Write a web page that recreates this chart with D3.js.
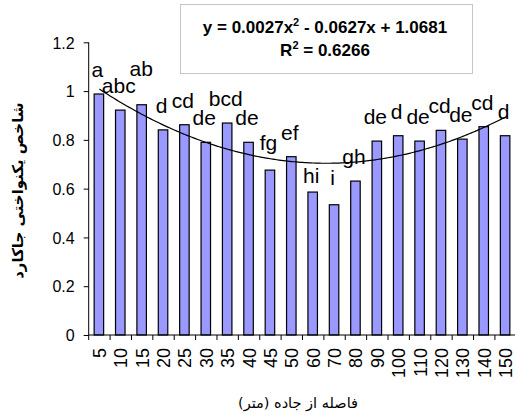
<!DOCTYPE html>
<html>
<head>
<meta charset="utf-8">
<script src="https://cdn.jsdelivr.net/npm/d3@7"></script>
<style>
  html, body { margin: 0; padding: 0; background: #fff; }
  svg { display: block; }
  text { font-family: Arial, "Liberation Sans", sans-serif; fill: #000; }
</style>
</head>
<body>
<script>
// Distance from road (m)
const categories = ["5", "10", "15", "20", "25", "30", "35", "40", "45", "50",
                    "60", "70", "80", "90", "100", "110", "120", "130", "140", "150"];
// Jaccard uniformity index per distance
const values = [0.988, 0.922, 0.944, 0.841, 0.862, 0.790, 0.869, 0.790, 0.676, 0.731,
                0.586, 0.534, 0.631, 0.795, 0.817, 0.795, 0.839, 0.803, 0.854, 0.817];
// Mean-comparison letters
const letters = ["a", "abc", "ab", "d", "cd", "de", "bcd", "de", "fg", "ef",
                 "hi", "i", "gh", "de", "d", "de", "cd", "de", "cd", "d"];
// Polynomial trend (order 2) over category index: a*x^2 + b*x + c
const trendCoef = [0.0027, -0.0627, 1.0681];
const trendR2 = 0.6266;
const yTicks = [0, 0.2, 0.4, 0.6, 0.8, 1, 1.2];
const yTickLabels = ["0", "0.2", "0.4", "0.6", "0.8", "1", "1.2"];

const W = 515, H = 418;
const plotLeft = 88.7, plotRight = 516.3, plotTop = 42.3, plotBottom = 335;

const svg = d3.select("body").append("svg")
  .attr("width", W).attr("height", H);

const x = d3.scaleBand().domain(categories).range([plotLeft, plotRight]).paddingInner(0).paddingOuter(0);
const y = d3.scaleLinear().domain([0, 1.2]).range([plotBottom, plotTop]);
const step = x.step();
const barW = 9.5;

// bars
svg.append("g").selectAll("rect")
  .data(values)
  .join("rect")
  .attr("x", (d, i) => x(categories[i]) + step / 2 - barW / 2 - 0.5)
  .attr("y", d => y(d))
  .attr("width", barW)
  .attr("height", d => y(0) - y(d))
  .attr("fill", "#9999ff")
  .attr("stroke", "#000")
  .attr("stroke-width", 1.2);

// quadratic trend line, category index 1..N at band centres
const idx = d3.scaleLinear().domain([1, categories.length])
  .range([x(categories[0]) + step / 2, x(categories[categories.length - 1]) + step / 2]);
const trendPts = d3.range(1, categories.length + 0.001, 0.1).map(t => [t,
  trendCoef[0] * t * t + trendCoef[1] * t + trendCoef[2]]);
svg.append("path")
  .datum(trendPts)
  .attr("fill", "none")
  .attr("stroke", "#000")
  .attr("stroke-width", 1.2)
  .attr("d", d3.line().x(d => idx(d[0])).y(d => y(d[1])));

// letters above bars
const labelNudge = { 2: -12, 8: -3, 10: 8, 11: -3 };
svg.append("g").selectAll("text")
  .data(letters)
  .join("text")
  .attr("x", (d, i) => x(categories[i]) + step / 2 - 2 + (i === 2 ? 1 : 0))
  .attr("y", (d, i) => y(values[i]) - 17 + (labelNudge[i] || 0))
  .attr("text-anchor", "middle")
  .style("font-size", "21px")
  .text(d => d);

// y axis
const yAxis = svg.append("g")
  .attr("transform", `translate(${plotLeft},0)`)
  .call(d3.axisLeft(y).tickValues(yTicks).tickSize(5).tickPadding(9)
    .tickFormat((d, i) => yTickLabels[i]));
yAxis.selectAll("text").style("font-size", "16px").attr("dy", "0.36em");
yAxis.select(".domain").attr("d", `M0,${plotTop}V${plotBottom}`);

// x axis: line, ticks at band boundaries, rotated labels
const xg = svg.append("g");
xg.append("line")
  .attr("x1", plotLeft).attr("x2", plotRight).attr("y1", plotBottom).attr("y2", plotBottom)
  .attr("stroke", "#000");
xg.selectAll("line.tk")
  .data(d3.range(categories.length + 1))
  .join("line")
  .attr("class", "tk")
  .attr("x1", i => plotLeft + i * step).attr("x2", i => plotLeft + i * step)
  .attr("y1", plotBottom).attr("y2", plotBottom + 5)
  .attr("stroke", "#000");
xg.selectAll("text")
  .data(categories)
  .join("text")
  .attr("transform", d => `translate(${x(d) + step / 2},${plotBottom + 13}) rotate(-90)`)
  .attr("text-anchor", "end")
  .attr("dy", "0.36em")
  .style("font-size", "18px")
  .text(d => d);

// axis titles
svg.append("text")
  .attr("transform", `translate(23,${(plotTop + plotBottom) / 2 + 2}) rotate(-90)`)
  .attr("text-anchor", "middle")
  .attr("direction", "rtl")
  .style("font-family", "'DejaVu Sans', sans-serif")
  .style("font-size", "15px")
  .style("font-weight", "bold")
  .text("شاخص یکنواختی جاکارد");

svg.append("text")
  .attr("x", 298).attr("y", 408)
  .attr("text-anchor", "middle")
  .attr("direction", "rtl")
  .style("font-family", "'DejaVu Sans', sans-serif")
  .style("font-size", "14.5px")
  .text("فاصله از جاده (متر)");

// equation box
const box = svg.append("g");
box.append("rect")
  .attr("x", 180.5).attr("y", 4.5).attr("width", 292).attr("height", 69)
  .attr("fill", "#fff").attr("stroke", "#8a8a8a").attr("stroke-dasharray", "1,1");
const fmt = v => Math.abs(v).toFixed(4);
const eq = box.append("text")
  .attr("x", 325).attr("y", 33)
  .attr("text-anchor", "middle")
  .style("font-size", "17px").style("font-weight", "bold");
eq.append("tspan").text(`y = ${fmt(trendCoef[0])}x`);
eq.append("tspan").attr("dy", -7).style("font-size", "11px").text("2");
eq.append("tspan").attr("dy", 7)
  .text(` ${trendCoef[1] < 0 ? "-" : "+"} ${fmt(trendCoef[1])}x ${trendCoef[2] < 0 ? "-" : "+"} ${fmt(trendCoef[2])}`);
const r2 = box.append("text")
  .attr("x", 325).attr("y", 56)
  .attr("text-anchor", "middle")
  .style("font-size", "17px").style("font-weight", "bold");
r2.append("tspan").text("R");
r2.append("tspan").attr("dy", -7).style("font-size", "11px").text("2");
r2.append("tspan").attr("dy", 7).text(` = ${trendR2.toFixed(4)}`);
</script>
</body>
</html>
